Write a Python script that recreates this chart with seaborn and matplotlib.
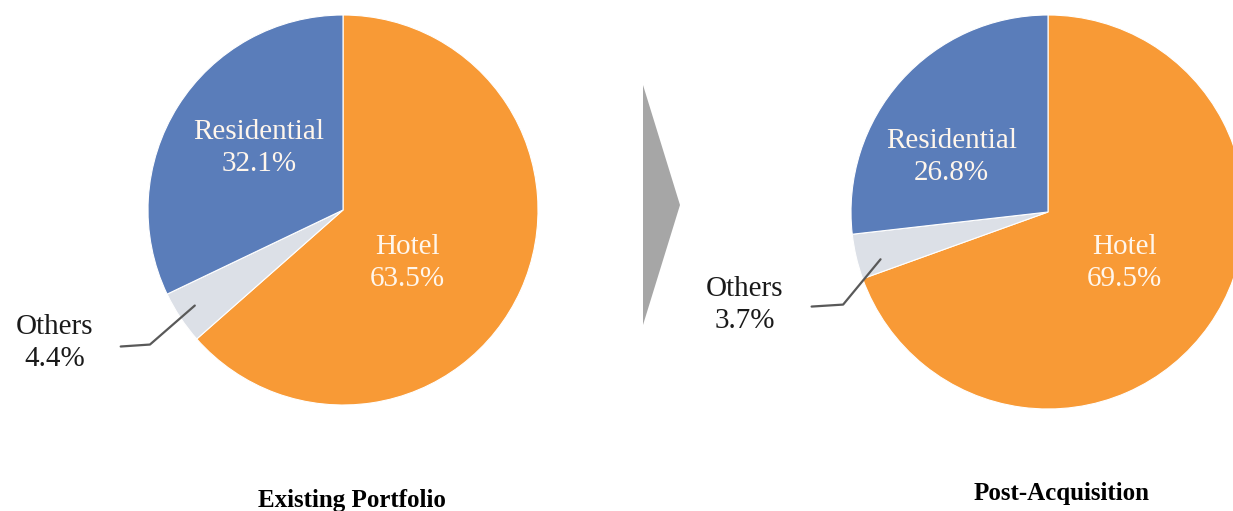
import matplotlib
matplotlib.use("Agg")
import matplotlib.pyplot as plt
from matplotlib.patches import Polygon
import seaborn as sns

# ---- data ----
categories = ["Hotel", "Others", "Residential"]
existing_values = [63.5, 4.4, 32.1]
post_values = [69.5, 3.7, 26.8]
titles = ["Existing Portfolio", "Post-Acquisition"]

sns.set_theme(style="white")
plt.rcParams['font.family'] = ['Liberation Serif', 'DejaVu Serif']

palette = sns.color_palette(["#F89A36", "#DCE0E7", "#5A7DBA"])

W, H = 1233, 511
fig = plt.figure(figsize=(W / 100, H / 100), dpi=100)
fig.patch.set_facecolor("white")


def add_pie(cx, cy, r, values, label_pos, others_line, title, title_pos):
    ax = fig.add_axes([(cx - r) / W, (H - cy - r) / H, 2 * r / W, 2 * r / H])
    ax.pie(values, colors=palette, startangle=90, counterclock=False,
           radius=1, wedgeprops=dict(edgecolor="white", linewidth=0.8))
    ax.set_xlim(-1, 1)
    ax.set_ylim(-1, 1)
    ax.set_aspect("equal")
    ax.axis("off")
    for cat, val in zip(categories, values):
        x, y = label_pos[cat]
        if cat == "Others":
            ax.text(x, y, f"{cat}\n{val:.1f}%", ha="center", va="center",
                    fontsize=21, color="#1a1a1a", linespacing=1.3, clip_on=False)
        else:
            ax.text(x, y, f"{cat}\n{val:.1f}%", ha="center", va="center",
                    fontsize=21, color="#FFF6EC", linespacing=1.3)
    xs, ys = zip(*others_line)
    ax.plot(xs, ys, color="#595959", lw=1.6, clip_on=False)
    fig.text(title_pos[0] / W, 1 - title_pos[1] / H, title, ha="center", va="center",
             fontsize=18, fontweight="bold", color="black")
    return ax


add_pie(343, 210, 195, existing_values,
        {"Residential": (-0.43, 0.32), "Hotel": (0.33, -0.27), "Others": (-1.48, -0.68)},
        [(-0.76, -0.49), (-0.99, -0.69), (-1.14, -0.70)],
        titles[0], (352, 500))

add_pie(1048, 212, 197, post_values,
        {"Residential": (-0.49, 0.28), "Hotel": (0.39, -0.26), "Others": (-1.54, -0.47)},
        [(-0.85, -0.24), (-1.04, -0.47), (-1.20, -0.48)],
        titles[1], (1062, 493))

# arrow between pies
arrow = Polygon([(643 / W, 1 - 85 / H), (680 / W, 1 - 205 / H), (643 / W, 1 - 325 / H)],
                closed=True, transform=fig.transFigure, facecolor="#A6A6A6", edgecolor="none")
fig.add_artist(arrow)

fig.savefig("out.png", dpi=100, facecolor="white")
